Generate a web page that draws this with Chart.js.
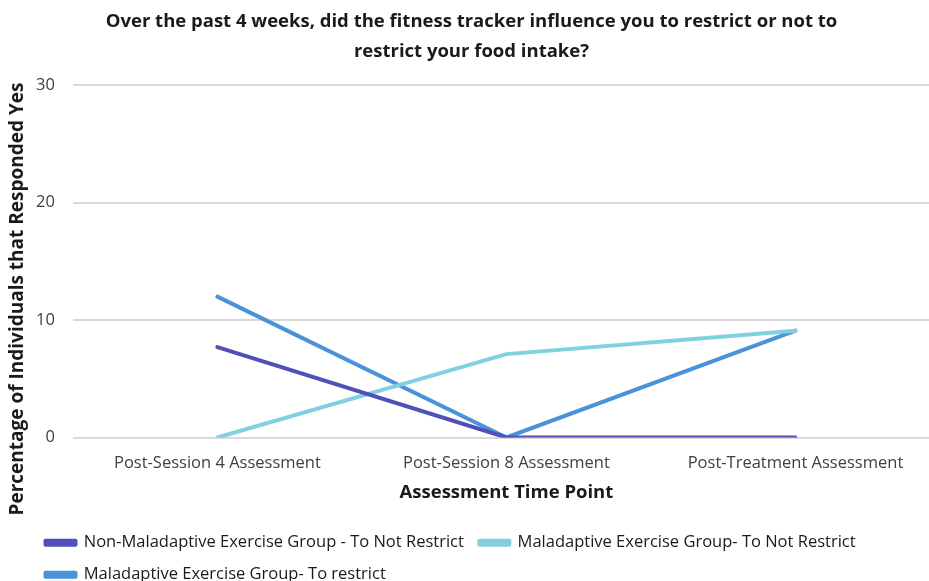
<!DOCTYPE html>
<html>
<head>
<meta charset="utf-8">
<script src="https://cdn.jsdelivr.net/npm/chart.js@4"></script>
<style>
  html, body { margin: 0; padding: 0; background: #fff; }
  #wrap { width: 929px; height: 581px; }
</style>
</head>
<body>
<div id="wrap"><canvas id="lineChart"></canvas></div>
<script>
// Dados
const timePoints = ["Post-Session 4 Assessment", "Post-Session 8 Assessment", "Post-Treatment Assessment"];
const nonMalNotRestrict = [7.7, 0, 0];
const malNotRestrict = [0, 7.1, 9.1];
const malRestrict = [12.0, 0, 9.1];
const yTicks = [0, 10, 20, 30];
const yTitle = "Percentage of Individuals that Responded Yes";

const fontFamily = "'Open Sans', 'Liberation Sans', sans-serif";
Chart.defaults.font.family = fontFamily;

// ajustes de layout: legenda para a direita, área do gráfico passando da borda direita
const layoutTweak = {
    id: 'layoutTweak',
    afterLayout(chart) {
        chart.legend.left += 12;
        chart.legend.right += 12;
        chart.titleBlock.left -= 2;
        chart.titleBlock.right -= 2;
        const x = chart.scales.x;
        x.right += 11;
        x.width += 11;
        x.configure();
        chart.chartArea.right += 11;
        chart.chartArea.width += 11;
    }
};

// título do eixo Y (no original ele fica mais baixo que o centro do eixo)
const yTitlePlugin = {
    id: 'yTitlePlugin',
    afterDraw(chart) {
        const c = chart.ctx;
        c.save();
        c.translate(18, 299);
        c.rotate(-Math.PI / 2);
        c.font = "bold 19px " + fontFamily;
        c.fillStyle = "#1a1a1a";
        c.textAlign = "center";
        c.textBaseline = "middle";
        c.fillText(yTitle, 0, 0);
        c.restore();
    }
};

const ctx = document.getElementById('lineChart').getContext('2d');
new Chart(ctx, {
    type: 'line',
    data: {
        labels: timePoints,
        datasets: [{
            label: "Non-Maladaptive Exercise Group - To Not Restrict",
            data: nonMalNotRestrict,
            borderColor: "#5050b8",
            backgroundColor: "#5050b8"
        }, {
            label: "Maladaptive Exercise Group- To Not Restrict",
            data: malNotRestrict,
            borderColor: "#80d0e0",
            backgroundColor: "#80d0e0"
        }, {
            label: "Maladaptive Exercise Group- To restrict",
            data: malRestrict,
            borderColor: "#4a92d9",
            backgroundColor: "#4a92d9"
        }]
    },
    plugins: [layoutTweak, yTitlePlugin],
    options: {
        responsive: true,
        maintainAspectRatio: false,
        animation: false,
        elements: {
            point: { radius: 0 },
            line: { borderWidth: 4, tension: 0, borderCapStyle: 'round', borderJoinStyle: 'round' }
        },
        layout: { padding: { left: 18, right: 0, top: 0, bottom: -12 } },
        plugins: {
            title: {
                display: true,
                text: ["Over the past 4 weeks, did the fitness tracker influence you to restrict or not to", "restrict your food intake?"],
                color: "#1a1a1a",
                font: { size: 18.5, weight: 'bold', lineHeight: 1.6 },
                padding: { top: 7, bottom: 19 }
            },
            legend: {
                position: 'bottom',
                align: 'start',
                labels: {
                    color: "#1a1a1a",
                    font: { size: 16.5 },
                    boxWidth: 30,
                    boxHeight: 4,
                    padding: 15.5
                }
            },
            tooltip: { enabled: false }
        },
        scales: {
            x: {
                offset: true,
                grid: { display: false },
                border: { display: false },
                ticks: { color: "#404040", font: { size: 16.5 }, padding: 8, maxRotation: 0 },
                title: {
                    display: true,
                    text: "Assessment Time Point",
                    color: "#1a1a1a",
                    font: { size: 18.5, weight: 'bold' },
                    padding: { top: 0, bottom: 15.5 }
                }
            },
            y: {
                min: 0,
                max: 30,
                afterBuildTicks: axis => { axis.ticks = yTicks.map(v => ({ value: v })); },
                grid: { color: "#d9d9d9", lineWidth: 2, drawTicks: false },
                border: { display: false },
                ticks: { color: "#404040", font: { size: 16.5 }, padding: 18 }
            }
        }
    }
});
</script>
</body>
</html>
